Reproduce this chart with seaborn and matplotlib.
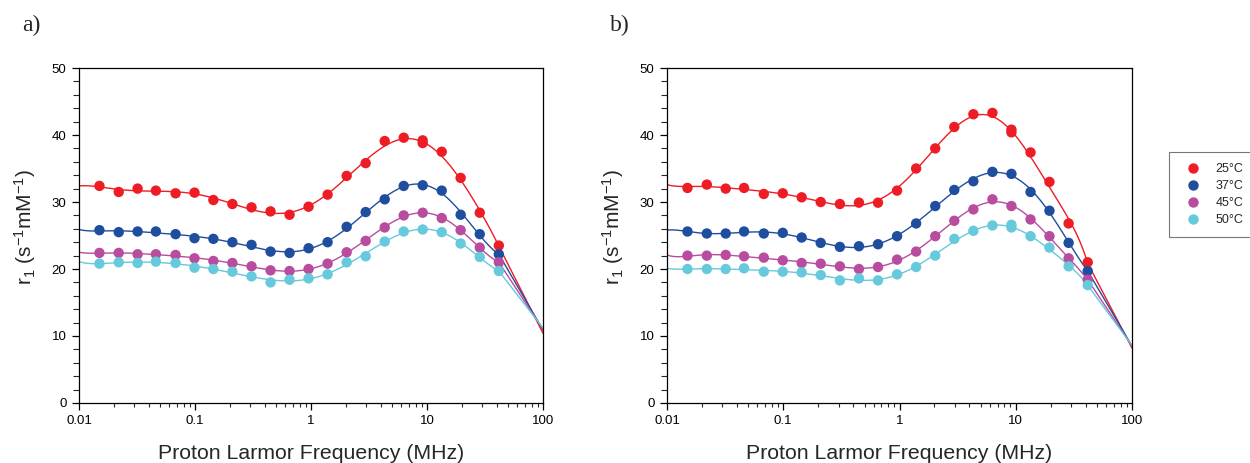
import numpy as np
import pandas as pd
import matplotlib
matplotlib.use("Agg")
import matplotlib.pyplot as plt
from matplotlib.ticker import FixedLocator, FuncFormatter, MultipleLocator, LogLocator, NullFormatter
import seaborn as sns

# ---------------- data ----------------
temps = ["25°C", "37°C", "45°C", "50°C"]
colors = ["#EE1C25", "#1F4E9E", "#B84C9F", "#66C9DC"]

freq = [0.015, 0.022, 0.032, 0.046, 0.068, 0.099, 0.144, 0.210, 0.307, 0.448, 0.653,
        0.953, 1.39, 2.03, 2.96, 4.32, 6.30, 9.18, 13.4, 19.5, 28.5, 41.6]

# panel a
a_25 = [32.4, 31.5, 32.0, 31.7, 31.3, 31.4, 30.3, 29.7, 29.2, 28.6, 28.1,
        29.3, 31.1, 33.9, 35.8, 39.1, 39.6, 39.2, 37.5, 33.6, 28.4, 23.5]
a_37 = [25.8, 25.5, 25.6, 25.6, 25.2, 24.6, 24.5, 24.0, 23.6, 22.6, 22.4,
        23.1, 24.0, 26.3, 28.5, 30.4, 32.4, 32.5, 31.7, 28.1, 25.2, 22.2]
a_45 = [22.4, 22.4, 22.2, 22.2, 22.1, 21.6, 21.2, 20.9, 20.4, 19.8, 19.7,
        20.0, 20.8, 22.5, 24.2, 26.2, 28.0, 28.4, 27.6, 25.8, 23.2, 21.0]
a_50 = [20.8, 21.0, 20.9, 21.1, 20.9, 20.2, 20.0, 19.6, 18.9, 18.0, 18.4,
        18.6, 19.2, 21.0, 21.9, 24.1, 25.6, 25.9, 25.5, 23.8, 21.8, 19.7]
a_extra_temp = ["25°C"]
a_extra_freq = [9.18]
a_extra_r1 = [38.8]
# fitted curve end values read at 0.01 and 100 MHz
a_curve_lo = [32.4, 25.9, 22.5, 21.1]
a_curve_hi = [10.4, 10.9, 11.0, 11.2]

# panel b
b_25 = [32.1, 32.6, 32.0, 32.1, 31.2, 31.3, 30.7, 30.0, 29.7, 29.9, 29.9,
        31.7, 35.0, 38.0, 41.2, 43.1, 43.3, 40.8, 37.4, 33.0, 26.8, 21.0]
b_37 = [25.6, 25.3, 25.3, 25.6, 25.3, 25.4, 24.7, 23.9, 23.3, 23.4, 23.7,
        24.9, 26.8, 29.4, 31.8, 33.1, 34.5, 34.2, 31.5, 28.7, 23.9, 19.7]
b_45 = [22.0, 22.0, 22.1, 21.9, 21.7, 21.3, 20.9, 20.8, 20.4, 20.0, 20.3,
        21.4, 22.6, 24.9, 27.2, 28.9, 30.4, 29.4, 27.4, 24.9, 21.6, 18.4]
b_50 = [20.0, 20.0, 20.0, 20.1, 19.6, 19.6, 19.5, 19.1, 18.3, 18.6, 18.3,
        19.2, 20.3, 22.0, 24.5, 25.7, 26.5, 26.6, 24.9, 23.2, 20.4, 17.6]
b_extra_temp = ["25°C", "50°C"]
b_extra_freq = [9.18, 9.18]
b_extra_r1 = [40.4, 26.2]
b_curve_lo = [32.6, 25.8, 22.1, 20.1]
b_curve_hi = [8.2, 8.5, 8.5, 8.6]

xticks = [0.01, 0.1, 1, 10, 100]
yticks = [0, 10, 20, 30, 40, 50]


def make_points(series, ex_t, ex_f, ex_r):
    rows = []
    for t, vals in zip(temps, series):
        for f, v in zip(freq, vals):
            rows.append((t, f, v))
    for t, f, v in zip(ex_t, ex_f, ex_r):
        rows.append((t, f, v))
    return pd.DataFrame(rows, columns=["temp", "freq", "r1"])


def make_fit(df, lo, hi):
    """Smooth least-squares fit through the points (log-frequency polynomial),
    closed by a straight segment to the value read at 100 MHz."""
    rows = []
    fmax = max(freq)
    grid = np.logspace(-2, np.log10(fmax), 300)
    for t, l, h in zip(temps, lo, hi):
        d = df[df.temp == t]
        x = np.concatenate([[-2.0], np.log10(d.freq.values)])
        y = np.concatenate([[l], d.r1.values])
        w = np.concatenate([[4.0], np.ones(len(d))])
        w[-1] = 3.0
        p = np.polyfit(x, y, 9, w=w)
        yy = np.polyval(p, np.log10(grid))
        for g, v in zip(grid, yy):
            rows.append((t, g, v))
        rows.append((t, 100.0, h))
    return pd.DataFrame(rows, columns=["temp", "freq", "r1"])


pts_a = make_points([a_25, a_37, a_45, a_50], a_extra_temp, a_extra_freq, a_extra_r1)
pts_b = make_points([b_25, b_37, b_45, b_50], b_extra_temp, b_extra_freq, b_extra_r1)
fit_a = make_fit(pts_a, a_curve_lo, a_curve_hi)
fit_b = make_fit(pts_b, b_curve_lo, b_curve_hi)

# ---------------- plotting ----------------
sns.set_style("ticks")
plt.rcParams["font.family"] = ["Liberation Sans", "DejaVu Sans"]
plt.rcParams["mathtext.fontset"] = "custom"
plt.rcParams["mathtext.rm"] = "Liberation Sans"
plt.rcParams["mathtext.it"] = "Liberation Sans:italic"

fig = plt.figure(figsize=(12.5, 4.63), dpi=100)
ax_a = fig.add_axes([0.0632, 0.1296, 0.3712, 0.7235])
ax_b = fig.add_axes([0.5336, 0.1296, 0.3720, 0.7235])
palette = dict(zip(temps, colors))

for ax, pts, fit, lab in [(ax_a, pts_a, fit_a, "a)"), (ax_b, pts_b, fit_b, "b)")]:
    sns.lineplot(data=fit, x="freq", y="r1", hue="temp", palette=palette, ax=ax,
                 linewidth=1.0, legend=False, estimator=None, sort=True)
    sns.scatterplot(data=pts, x="freq", y="r1", hue="temp", palette=palette, ax=ax,
                    s=56, edgecolor="none", legend=(ax is ax_b), zorder=3)
    ax.set_xscale("log")
    ax.set_xlim(0.01, 100)
    ax.set_ylim(0, 50)
    ax.xaxis.set_major_locator(FixedLocator(xticks))
    ax.xaxis.set_major_formatter(FuncFormatter(lambda v, p: f"{v:g}"))
    ax.xaxis.set_minor_locator(LogLocator(base=10, subs=np.arange(2, 10)))
    ax.xaxis.set_minor_formatter(NullFormatter())
    ax.yaxis.set_major_locator(FixedLocator(yticks))
    ax.yaxis.set_minor_locator(MultipleLocator(2))
    ax.tick_params(which="major", direction="out", length=5, width=0.9, labelsize=9.5,
                   colors="black", pad=4)
    ax.tick_params(which="minor", direction="out", length=4, width=0.8)
    ax.tick_params(axis="x", which="minor", length=3)
    for sp in ax.spines.values():
        sp.set_visible(True)
        sp.set_color("black")
        sp.set_linewidth(0.9)
    ax.set_xlabel("Proton Larmor Frequency (MHz)", fontsize=15.3, labelpad=12)
    ax.set_ylabel(r"r$_1$ (s$^{-1}$mM$^{-1}$)", fontsize=15)
    ax.yaxis.set_label_coords(-0.088, 0.525)
    ax.text(-0.123, 1.128, lab, transform=ax.transAxes, fontsize=17,
            family="Liberation Serif", va="center", ha="left")

leg = ax_b.legend(loc="upper left", bbox_to_anchor=(1.066, 0.768), frameon=True,
                  fontsize=9, handletextpad=0.8, borderpad=0.9, labelspacing=0.4,
                  fancybox=False, edgecolor="#555555", title=None)
leg.get_frame().set_linewidth(0.8)

fig.savefig("out.png", dpi=100)
